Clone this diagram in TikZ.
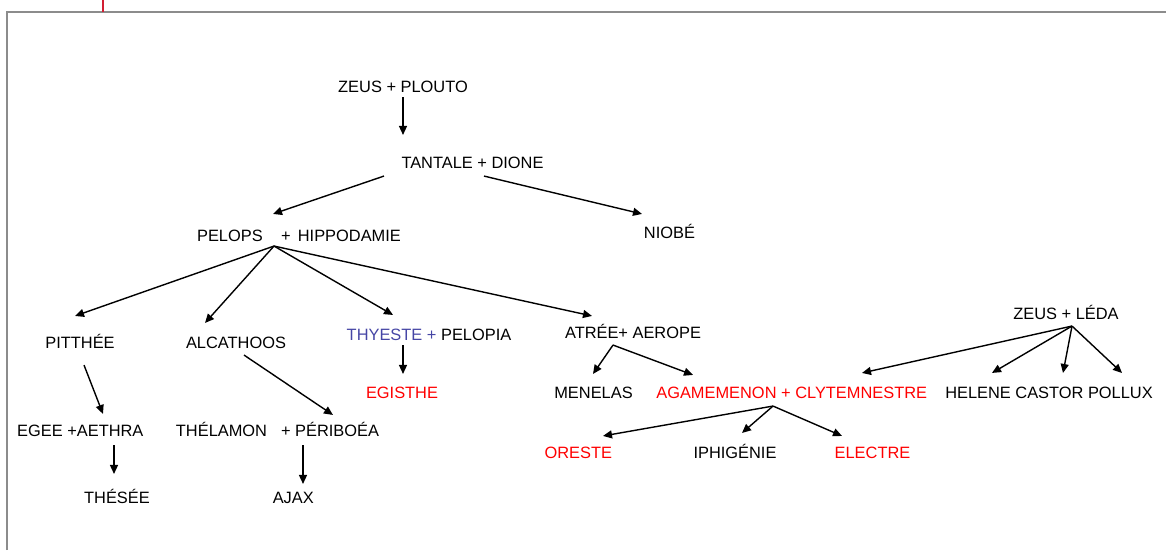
\documentclass[tikz,border=0pt]{standalone}
\usepackage{fontspec}
\setmainfont{Liberation Sans}
\usetikzlibrary{arrows.meta,calc}
\definecolor{heirred}{RGB}{255,0,0}
\definecolor{thyblue}{RGB}{70,70,165}
\definecolor{framegray}{RGB}{140,140,140}
\definecolor{tickred}{RGB}{210,30,50}
\tikzset{
  person/.style={inner sep=0pt, text height=11.7pt, text depth=0pt,
    font=\fontsize{16.4}{18}\selectfont},
  heir/.style={person, text=heirred},
  arr/.style={-{Triangle[length=9pt,width=8pt]}, line width=1.4pt}
}
\begin{document}
\begin{tikzpicture}[x=1pt,y=-1pt]
\useasboundingbox (0,0) rectangle (1166,550);
\draw[framegray, line width=1.3pt] (7,550) -- (7,12) -- (1166,12);
\draw[tickred, line width=2pt] (103,0) -- (103,11.5);

\node[person] (zeusplouto) at (403,86.5) {ZEUS + PLOUTO};
\node[person] (tantale) at (472.5,162.5) {TANTALE + DIONE};
\node[person] (pelops) at (299,235.5) {PELOPS\hspace{18.4pt}+\hspace{7.2pt}HIPPODAMIE};
\node[person] (niobe) at (669.5,233) {NIOBÉ};

\node[person] (pitthee) at (80,342.5) {PITTHÉE};
\node[person] (alcathoos) at (236,342.5) {ALCATHOOS};
\node[person] (thyeste) at (429,335) {{\color{thyblue}THYESTE +} PELOPIA};
\node[person] (atree) at (633,332.5) {ATRÉE+ AEROPE};
\node[person] (zeusleda) at (1066,314) {ZEUS + LÉDA};

\node[heir] (egisthe) at (402,392.5) {EGISTHE};
\node[person] (menelas) at (593.5,392.5) {MENELAS};
\node[heir] (agamemnon) at (791.7,392.5) {AGAMEMENON + CLYTEMNESTRE};
\node[person] (helene) at (1049,392.5) {HELENE CASTOR POLLUX};

\node[person] (egee) at (80.3,431) {EGEE +AETHRA};
\node[person] (thelamon) at (277.5,431) {THÉLAMON\hspace{14pt}+ PÉRIBOÉA};
\node[heir] (oreste) at (578.3,452.5) {ORESTE};
\node[person] (iphigenie) at (735,452.5) {IPHIGÉNIE};
\node[heir] (electre) at (872.5,452.5) {ELECTRE};

\node[person] (thesee) at (117,497.5) {THÉSÉE};
\node[person] (ajax) at (293.3,497.5) {AJAX};

% first generations
\draw[arr] ($(zeusplouto.south)+(0,4.5)$) -- ($(tantale.north)+(-69.5,-21.5)$);
\draw[arr] ($(tantale.south)+(-88.5,7.5)$) -- ($(pelops.north)+(-26,-15.5)$);
\draw[arr] ($(tantale.south)+(11.5,7.5)$) -- ($(niobe.north)+(-27.5,-13)$);

% children of pelops
\draw[arr] ($(pelops.south)+(-25,4.5)$) -- ($(pitthee.north)+(-5,-20.5)$);
\draw[arr] ($(pelops.south)+(-25,4.5)$) -- ($(alcathoos.north)+(-31,-13.5)$);
\draw[arr] ($(pelops.south)+(-25,4.5)$) -- ($(thyeste.north)+(-36,-14)$);
\draw[arr] ($(pelops.south)+(-25,4.5)$) -- ($(atree.north)+(-41,-10.5)$);

\draw[arr] ($(pitthee.south)+(4,16.5)$) -- ($(egee.north)+(22.7,-11)$);
\draw[arr] ($(alcathoos.south)+(8,6.5)$) -- ($(thelamon.north)+(55.5,-10)$);
\draw[arr] ($(thyeste.south)+(-26,4)$) -- ($(egisthe.north)+(1,-12.5)$);
\draw[arr] ($(egee.south)+(33.7,8)$) -- ($(thesee.north)+(-3,-17.5)$);
\draw[arr] ($(thelamon.south)+(25.5,8)$) -- ($(ajax.north)+(9.7,-7.5)$);

% atrides
\draw[arr] ($(atree.south)+(-20,6.5)$) -- ($(menelas.north)+(-0.5,-12.5)$);
\draw[arr] ($(atree.south)+(-20,6.5)$) -- ($(agamemnon.north)+(-98.7,-11.5)$);

% zeus and leda
\draw[arr] ($(zeusleda.south)+(6,6)$) -- ($(agamemnon.north)+(70.3,-13.5)$);
\draw[arr] ($(zeusleda.south)+(6,6)$) -- ($(helene.north)+(-57,-13.5)$);
\draw[arr] ($(zeusleda.south)+(6,6)$) -- ($(helene.north)+(14,-13.5)$);
\draw[arr] ($(zeusleda.south)+(6,6)$) -- ($(helene.north)+(73,-13.5)$);

\draw[arr] ($(agamemnon.south)+(-18.7,7.5)$) -- ($(oreste.north)+(24.7,-10.5)$);
\draw[arr] ($(agamemnon.south)+(-18.7,7.5)$) -- ($(iphigenie.north)+(7,-13.5)$);
\draw[arr] ($(agamemnon.south)+(-18.7,7.5)$) -- ($(electre.north)+(-30.5,-10.5)$);
\end{tikzpicture}
\end{document}
